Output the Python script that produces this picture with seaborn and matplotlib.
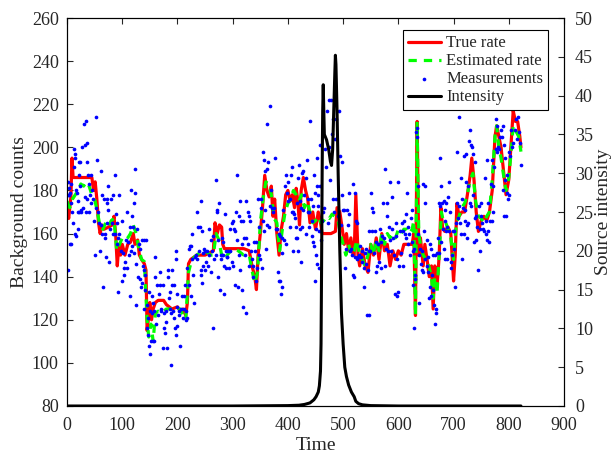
import numpy as np
import pandas as pd
import matplotlib
matplotlib.use("Agg")
import matplotlib.pyplot as plt
import seaborn as sns

# ---------------- data ----------------
true_t = [0, 3, 7, 9, 11, 45, 48, 51, 54, 57, 60, 63, 67, 75, 82, 85, 88, 91, 94, 97, 100, 105, 110, 115, 120,
          123, 128, 131, 135, 140, 143, 145, 148, 150, 153, 156, 160, 165, 175, 180, 185, 190, 200, 205, 210,
          215, 218, 220, 224, 235, 250, 265, 268, 272, 276, 280, 282, 285, 300, 320, 330, 335, 340, 343, 346,
          350, 354, 358, 362, 366, 370, 373, 376, 380, 384, 388, 392, 396, 400, 404, 408, 412, 415, 418, 421,
          424, 428, 432, 436, 440, 445, 450, 455, 458, 462, 478, 486, 489, 494, 498, 502, 506, 510, 514, 518,
          520, 523, 527, 530, 535, 540, 545, 550, 555, 560, 565, 570, 575, 580, 585, 590, 595, 600, 605, 610,
          620, 625, 628, 631, 634, 637, 640, 645, 648, 652, 656, 660, 663, 666, 670, 674, 677, 680, 684, 690,
          695, 700, 703, 706, 710, 715, 720, 725, 730, 733, 737, 741, 745, 750, 755, 760, 765, 770, 775, 778,
          782, 786, 790, 795, 800, 805, 808, 812, 816, 820, 822]
true_rate = [173, 167, 177, 195, 186, 186, 180, 184, 176, 165, 160, 164, 162, 163, 164, 168, 160, 145, 155, 150,
             155, 150, 155, 156, 160, 155, 157, 150, 148, 146, 143, 115, 122, 128, 120, 125, 128, 129, 129, 127,
             126, 125, 126, 124, 125, 122, 128, 146, 148, 150, 150, 152, 165, 160, 164, 163, 155, 153, 153, 153,
             152, 145, 140, 134, 150, 160, 172, 187, 180, 177, 182, 168, 176, 160, 150, 162, 168, 178, 180, 175,
             178, 172, 181, 175, 164, 180, 186, 180, 176, 165, 170, 162, 170, 167, 160, 160, 161, 172, 170, 163,
             155, 160, 152, 158, 150, 150, 178, 150, 145, 153, 145, 142, 155, 150, 158, 148, 160, 152, 155, 145,
             152, 148, 152, 150, 155, 155, 155, 160, 122, 212, 150, 158, 145, 155, 148, 140, 145, 125, 145, 135,
             150, 172, 163, 161, 163, 160, 138, 150, 174, 168, 170, 170, 178, 187, 195, 185, 170, 161, 166, 168,
             166, 170, 180, 205, 210, 205, 200, 190, 178, 185, 205, 217, 212, 212, 205, 200]

est_t = [0, 5, 10, 15, 20, 25, 30, 35, 40, 45, 50, 55, 60, 65, 70, 75, 80, 85, 90, 95, 100, 105, 110, 115, 120,
         125, 130, 135, 140, 145, 148, 152, 156, 160, 165, 170, 180, 190, 200, 205, 210, 215, 220, 225, 230,
         240, 250, 260, 265, 270, 275, 280, 285, 290, 300, 310, 320, 330, 335, 340, 345, 350, 355, 360, 365,
         370, 375, 380, 385, 390, 395, 400, 405, 410, 415, 420, 425, 430, 435, 440, 445, 450, 455, 460, 465,
         470, 475, 480, 485, 490, 495, 500, 505, 510, 515, 520, 525, 530, 535, 540, 545, 550, 555, 560, 565,
         570, 575, 580, 585, 590, 595, 600, 605, 610, 615, 620, 625, 628, 631, 634, 637, 640, 645, 650, 655,
         660, 663, 666, 670, 675, 678, 682, 686, 690, 695, 700, 705, 710, 715, 720, 725, 730, 735, 740, 745,
         750, 755, 760, 765, 770, 775, 778, 782, 786, 790, 795, 800, 805, 808, 812, 818, 822]
est_rate = [175, 172, 176, 178, 180, 183, 182, 184, 182, 178, 176, 170, 163, 162, 165, 163, 166, 167, 152, 155,
            158, 157, 158, 160, 164, 160, 153, 148, 147, 120, 112, 118, 110, 123, 124, 123, 125, 125, 124, 125,
            122, 120, 142, 147, 149, 151, 152, 150, 150, 160, 157, 150, 148, 150, 153, 152, 150, 150, 143, 137,
            142, 165, 176, 184, 183, 178, 167, 165, 152, 162, 170, 174, 176, 180, 178, 175, 178, 172, 175, 170,
            165, 166, 168, 165, 166, 168, 167, 169, 168, 167, 160, 155, 150, 155, 150, 152, 157, 150, 148, 145,
            150, 155, 150, 157, 152, 160, 155, 160, 158, 160, 158, 162, 160, 162, 162, 160, 162, 166, 122, 212,
            160, 155, 150, 148, 145, 140, 130, 140, 132, 155, 170, 165, 165, 162, 158, 148, 165, 168, 172, 174,
            178, 185, 188, 175, 168, 167, 165, 168, 170, 185, 205, 210, 200, 195, 188, 180, 186, 200, 210, 208,
            205, 198]

meas_time = [
    1, 2, 2, 3, 4, 5, 6, 7, 7, 8, 9, 10, 12, 13, 14, 15, 15, 16, 17, 18, 19, 19, 20, 21, 22, 22, 23, 24, 25, 26,
    28, 29, 31, 32, 33, 34, 35, 36, 36, 37, 38, 39, 40, 41, 43, 43, 45, 47, 49, 51, 52, 53, 54, 56, 58, 60, 61,
    62, 63, 64, 66, 67, 68, 69, 70, 72, 72, 73, 74, 75, 76, 78, 80, 81, 83, 84, 86, 87, 88, 90, 91, 92, 93, 95,
    95, 97, 99, 100, 102, 103, 104, 105, 106, 108, 108, 110, 112, 114, 114, 115, 116, 117, 118, 119, 121, 122,
    123, 124, 125, 125, 127, 129, 130, 132, 132, 134, 135, 136, 138, 140, 141,
    139, 140, 142, 143, 144, 145, 146, 147, 148, 149, 150, 151, 152, 153, 154, 155, 156, 157, 158, 159, 160, 161,
    163, 164, 166, 168, 169, 170, 171, 173, 174, 175, 176, 178, 179, 180, 181, 182, 183, 184, 186, 187, 188, 189,
    190, 191, 192, 194, 194, 195, 197, 197, 198, 199, 200, 200, 202, 203, 205, 206, 208, 210, 211, 212, 214, 215,
    216, 218, 218, 220, 221, 222, 224, 225, 226, 227, 228, 230, 231, 233, 235, 236, 238, 239, 241, 242, 242, 243,
    244, 245, 246, 247, 248, 249, 250, 252, 254, 255, 257, 258, 260, 261, 263, 264, 265, 267, 269, 269, 271, 272,
    273, 274, 276, 277, 278, 279,
    280, 281, 282, 283, 284, 285, 286, 287, 288, 289, 290, 292, 293, 295, 296, 298, 299, 300, 301, 302, 304, 304,
    306, 307, 308, 309, 311, 312, 313, 314, 315, 316, 317, 318, 319, 320, 322, 324, 325, 325, 327, 328, 329, 330,
    332, 333, 335, 337, 337, 339, 341, 342, 343, 344, 346, 347, 348, 349, 351, 352, 353, 354, 355, 356, 357, 358,
    359, 360, 362, 363, 363, 364, 366, 367, 368, 369, 371, 373, 375, 377, 378, 380, 382, 383, 384, 385, 386, 387,
    389, 389, 390, 392, 393, 395, 396, 397, 398, 400, 401, 403, 404, 405, 407, 408, 409, 410,
    411, 412, 414, 415, 416, 417, 418, 419, 420, 421, 422, 423, 424, 425, 426, 427, 428, 430, 432, 433, 435, 436,
    437, 438, 439, 440, 441, 443, 444, 445, 446, 447, 448, 449, 449, 450, 451, 452, 452, 453, 454, 455, 456, 457,
    458, 459, 460, 462, 464, 466, 468, 469, 470, 472, 474, 475, 476, 478, 479, 481, 482, 484, 486, 487, 488, 490,
    492, 494, 496, 498, 498, 500, 502, 504, 505, 507, 508, 510, 511, 512, 514, 516, 517, 518, 519, 521, 522, 523,
    525, 526, 527, 529, 531, 532, 534, 535, 537, 538, 539, 541, 542, 544, 545,
    546, 546, 547, 549, 551, 552, 553, 555, 556, 558, 559, 560, 562, 563, 565, 567, 568, 569, 570, 572, 573, 574,
    575, 576, 578, 579, 580, 581, 583, 584, 585, 587, 588, 589, 591, 592, 594, 595, 596, 597, 598, 599, 600, 601,
    603, 604, 606, 608, 609, 611, 612, 613, 614, 616, 617, 618, 620, 621, 623, 624, 625, 626, 627, 628, 629, 630,
    631, 632, 633, 634, 635, 636, 637, 638, 640, 641, 642, 643, 644, 645, 647, 648, 649, 649, 651, 652, 654, 654,
    656, 657, 658, 659, 660, 661, 662, 663, 665, 666, 667, 668, 669, 670, 672, 673, 674, 675, 676, 677, 678, 679,
    681, 682,
    683, 684, 684, 685, 686, 687, 688, 689, 690, 691, 692, 693, 695, 696, 698, 699, 700, 701, 702, 704, 706, 707,
    708, 709, 710, 712, 713, 714, 716, 716, 717, 718, 719, 720, 721, 722, 723, 724, 725, 726, 727, 728, 729, 730,
    731, 732, 733, 735, 736, 737, 738, 739, 740, 741, 743, 744, 746, 747, 748, 749, 750, 752, 753, 755, 757, 758,
    759, 760, 761, 762, 763, 764, 766, 768, 769, 770, 771, 772, 774, 776, 777, 778, 779, 780, 782, 784, 786, 788,
    789, 790, 791, 792, 793, 794, 795, 796, 797, 798, 800, 801, 803, 804, 806, 808, 811, 813, 815, 817, 819, 821,
    822]
meas_counts = [
    184, 143, 178, 178, 181, 155, 179, 174, 183, 155, 170, 165, 199, 191, 160, 195, 197, 180, 159, 179, 162, 175,
    170, 193, 187, 170, 193, 182, 171, 170, 200, 172, 211, 177, 201, 170, 212, 176, 193, 202, 187, 170, 183, 178,
    187, 174, 180, 176, 166, 150, 214, 172, 194, 170, 165, 152, 189, 164, 160, 178, 135, 176, 160, 158, 149, 176,
    174, 165, 182, 171, 147, 162, 176, 165, 160, 178, 160, 187, 169, 155, 165, 158, 133, 178, 160, 152, 138, 166,
    151, 141, 144, 147, 157, 144, 170, 156, 150, 163, 131, 180, 152, 168, 154, 163, 174, 151, 179, 190, 127, 146,
    162, 140, 155, 153, 139, 135, 137, 157, 145, 157, 141,
    143, 125, 134, 157, 127, 116, 113, 121, 133, 108, 124, 104, 110, 123, 131, 110, 128, 110, 124, 140, 149, 118,
    136, 122, 132, 136, 142, 125, 124, 136, 107, 116, 123, 114, 124, 119, 107, 143, 140, 130, 133, 125, 99, 123,
    136, 143, 124, 121, 136, 116, 152, 148, 113, 126, 132, 117, 124, 122, 108, 125, 131, 121, 125, 131, 136, 124,
    120, 121, 144, 136, 153, 154, 131, 154, 148, 160, 141, 128, 149, 150, 170, 148, 163, 152, 163, 175, 141, 143,
    161, 137, 151, 145, 153, 143, 152, 147, 152, 145, 150, 162, 142, 157, 152, 159, 116, 148, 150, 185, 171, 170,
    140, 157, 174, 134, 150, 148,
    158, 150, 156, 150, 132, 145, 169, 144, 152, 149, 149, 152, 144, 162, 152, 165, 147, 145, 166, 162, 161, 136,
    170, 187, 157, 135, 168, 150, 143, 175, 166, 155, 134, 126, 166, 158, 150, 175, 158, 123, 170, 155, 145, 168,
    166, 152, 148, 145, 140, 156, 152, 138, 156, 144, 176, 150, 163, 148, 176, 172, 144, 198, 166, 161, 194, 189,
    171, 153, 164, 211, 190, 193, 163, 219, 173, 180, 172, 170, 172, 195, 162, 162, 142, 160, 138, 159, 138, 132,
    135, 151, 158, 171, 157, 182, 187, 155, 179, 184, 175, 176, 163, 187, 170, 191, 170, 152,
    169, 167, 158, 163, 158, 174, 152, 186, 192, 162, 175, 147, 172, 188, 163, 171, 189, 178, 186, 160, 194, 170,
    176, 163, 170, 212, 176, 159, 166, 156, 173, 154, 187, 179, 138, 162, 150, 195, 182, 146, 178, 173, 144, 161,
    201, 182, 157, 166, 170, 172, 199, 191, 217, 165, 200, 222, 185, 222, 206, 213, 176, 170, 204, 213, 176, 168,
    217, 196, 164, 178, 193, 171, 171, 144, 153, 171, 164, 179, 169, 152, 153, 150, 183, 141, 140, 179, 149, 166,
    148, 165, 149, 150, 154, 149, 147, 152, 144, 135, 151, 146, 153, 122, 143,
    152, 122, 161, 152, 179, 172, 161, 170, 151, 161, 142, 156, 145, 155, 147, 162, 156, 144, 159, 138, 174, 158,
    190, 145, 153, 168, 174, 152, 163, 184, 157, 152, 162, 177, 158, 150, 132, 159, 165, 131, 148, 133, 184, 145,
    161, 151, 165, 161, 145, 166, 160, 169, 158, 179, 163, 155, 160, 150, 167, 171, 156, 152, 136, 116, 153, 139,
    141, 207, 209, 205, 182, 160, 150, 128, 153, 146, 152, 143, 183, 142, 161, 148, 182, 174, 145, 157, 149, 142,
    130, 135, 155, 131, 153, 141, 134, 150, 127, 118, 150, 123, 125, 151, 158, 151, 174, 173, 195, 156, 182, 174,
    162, 175,
    153, 171, 148, 166, 174, 161, 148, 163, 177, 161, 184, 170, 147, 144, 150, 161, 153, 161, 135, 165, 198, 174,
    167, 214, 173, 165, 160, 186, 176, 148, 172, 160, 196, 171, 166, 184, 197, 164, 158, 182, 165, 203, 174, 208,
    173, 201, 200, 178, 197, 156, 193, 167, 157, 168, 163, 143, 173, 152, 162, 174, 168, 165, 162, 161, 186, 166,
    160, 194, 157, 174, 161, 156, 166, 183, 166, 194, 170, 182, 191, 213, 199, 198, 210, 200, 199, 205, 208, 205,
    180, 210, 168, 201, 195, 185, 168, 187, 179, 176, 178, 198, 196, 208, 200, 202, 208, 213, 204, 214, 207, 202,
    192]

int_t = [0, 100, 200, 300, 400, 420, 430, 440, 447, 451, 455, 457, 459, 460, 461, 462, 463, 464, 465, 466, 470,
         474, 477, 479, 481, 483, 485, 486, 487, 489, 491, 494, 497, 500, 503, 506, 510, 515, 520, 523, 528, 535,
         550, 600, 700, 822]
intensity = [0, 0, 0, 0, 0.05, 0.1, 0.2, 0.4, 0.8, 1.2, 1.8, 2.6, 4.5, 8, 18, 30, 38, 41.4, 38, 35, 34.3, 33,
             31.5, 31, 33, 38, 43, 45.2, 44, 38, 30, 20, 12, 8, 5, 3.8, 2.7, 1.8, 1.2, 0.6, 0.3, 0.15, 0.05, 0, 0, 0]

# ---------------- plot ----------------
sns.set_style("white")
plt.rcParams['font.family'] = ['Liberation Serif', 'DejaVu Serif']

fig = plt.figure(figsize=(6.16, 4.57), dpi=100)
ax = fig.add_axes([0.1088, 0.1116, 0.8068, 0.849])

df_true = pd.DataFrame({"t": true_t, "v": true_rate})
df_est = pd.DataFrame({"t": est_t, "v": est_rate})
df_meas = pd.DataFrame({"t": meas_time, "v": meas_counts})
df_int = pd.DataFrame({"t": int_t, "v": intensity})

sns.lineplot(data=df_true, x="t", y="v", ax=ax, color=(1, 0, 0), lw=2.3, sort=False,
             estimator=None, label="True rate", zorder=2)
sns.lineplot(data=df_est, x="t", y="v", ax=ax, color=(0, 1, 0), lw=2.3, sort=False,
             estimator=None, label="Estimated rate", zorder=2.5, linestyle=(0, (2.6, 2.2)))
sns.scatterplot(data=df_meas, x="t", y="v", ax=ax, color=(0, 0, 1), s=7, marker="o",
                linewidth=0, label="Measurements", zorder=3)

ax.set_xlim(0, 900)
ax.set_ylim(80, 260)
ax.set_xticks(np.arange(0, 901, 100))
ax.set_yticks(np.arange(80, 261, 20))
ax.set_xlabel("Time", fontsize=14, labelpad=2)
ax.set_ylabel("Background counts", fontsize=14, labelpad=3)
ax.tick_params(axis='y', direction='in', length=4, labelsize=13, width=0.8, pad=6)
ax.tick_params(axis='x', direction='in', length=4, labelsize=13, width=0.8, pad=8, top=True)

ax2 = ax.twinx()
sns.lineplot(data=df_int, x="t", y="v", ax=ax2, color="black", lw=2.2, sort=False,
             estimator=None, label="Intensity")
ax2.set_ylim(0, 50)
ax2.set_yticks(np.arange(0, 51, 5))
ax2.set_ylabel("Source intensity", fontsize=14, labelpad=1)
ax2.tick_params(axis='y', direction='in', length=4, labelsize=13, width=0.8, pad=8)

for a in (ax, ax2):
    for s in a.spines.values():
        s.set_color("black")
        s.set_linewidth(0.8)

h1, l1 = ax.get_legend_handles_labels()
h2, l2 = ax2.get_legend_handles_labels()
if ax.get_legend():
    ax.get_legend().remove()
if ax2.get_legend():
    ax2.get_legend().remove()
leg = ax2.legend(h1 + h2, l1 + l2, loc="upper right", bbox_to_anchor=(0.968, 0.968),
                 fontsize=12, frameon=True, fancybox=False, edgecolor="black",
                 framealpha=1, borderpad=0.3, labelspacing=0.12, handlelength=2.0,
                 handletextpad=0.3, borderaxespad=0.0, markerscale=1.0)
leg.get_frame().set_linewidth(0.8)

fig.savefig("out.png", dpi=100)
